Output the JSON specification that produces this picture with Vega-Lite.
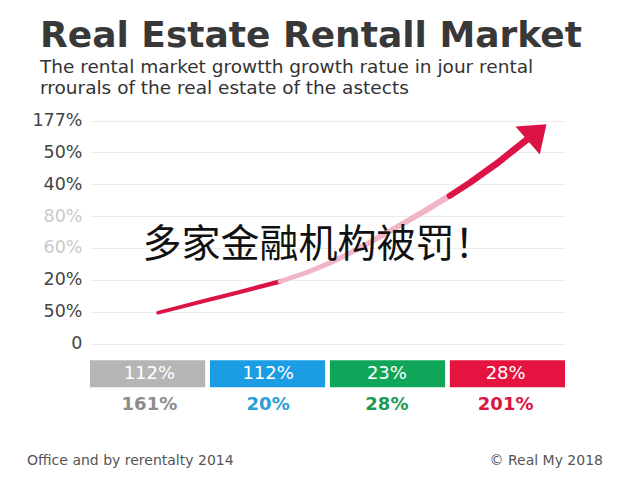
{
  "$schema": "https://vega.github.io/schema/vega-lite/v6.json",
  "width": 475,
  "height": 370,
  "autosize": {"type": "none"},
  "padding": {"left": 90, "top": 110, "right": 75, "bottom": 0},
  "background": "white",
  "config": {"view": {"stroke": null}},
  "title": {
    "text": "Real Estate Rentall Market",
    "subtitle": ["The rental market growtth growth ratue in jour rental", "rrourals of the real estate of the astects"],
    "anchor": "start",
    "frame": "group",
    "dx": -50,
    "offset": 12,
    "font": "DejaVu Sans",
    "fontSize": 36,
    "fontWeight": "bold",
    "color": "#383838",
    "subtitleFont": "DejaVu Sans",
    "subtitleFontSize": 18.5,
    "subtitleColor": "#333333",
    "subtitlePadding": 3,
    "subtitleLineHeight": 21
  },
  "datasets": {
    "curve": [
      {"x": 0.573, "y": 0.97, "seg": 1, "part": "solid"},
      {"x": 0.983, "y": 1.36, "seg": 1, "part": "solid"},
      {"x": 1.263, "y": 1.62, "seg": 1, "part": "solid"},
      {"x": 1.600, "y": 1.95, "seg": 1, "part": "solid"},
      {"x": 1.600, "y": 1.95, "seg": 2, "part": "faded"},
      {"x": 1.825, "y": 2.23, "seg": 2, "part": "faded"},
      {"x": 2.021, "y": 2.53, "seg": 2, "part": "faded"},
      {"x": 2.246, "y": 2.95, "seg": 2, "part": "faded"},
      {"x": 2.526, "y": 3.53, "seg": 2, "part": "faded"},
      {"x": 2.804, "y": 4.13, "seg": 2, "part": "faded"},
      {"x": 3.030, "y": 4.64, "seg": 2, "part": "faded"},
      {"x": 3.030, "y": 4.64, "seg": 3, "part": "solid"},
      {"x": 3.200, "y": 5.05, "seg": 3, "part": "solid"},
      {"x": 3.425, "y": 5.65, "seg": 3, "part": "solid"},
      {"x": 3.621, "y": 6.23, "seg": 3, "part": "solid"},
      {"x": 3.705, "y": 6.48, "seg": 3, "part": "solid"}
    ],
    "tip": [{"x": 3.75, "y": 6.58}],
    "boxes": [
      {"cat": "A", "top": "112%", "bottom": "161%"},
      {"cat": "B", "top": "112%", "bottom": "20%"},
      {"cat": "C", "top": "23%", "bottom": "28%"},
      {"cat": "D", "top": "28%", "bottom": "201%"}
    ],
    "notes": [{"note": "多家金融机构被罚！"}],
    "footerLeft": [{"text": "Office and by rerentalty 2014"}],
    "footerRight": [{"text": "© Real My 2018"}]
  },
  "resolve": {"scale": {"x": "independent", "color": "independent", "size": "independent"}},
  "layer": [
    {
      "data": {"name": "curve"},
      "mark": {"type": "trail", "interpolate": "monotone"},
      "encoding": {
        "x": {"field": "x", "type": "quantitative", "scale": {"domain": [0, 4], "nice": false, "zero": false}, "axis": null},
        "y": {
          "field": "y", "type": "quantitative",
          "scale": {"domain": [-4.28, 7.33], "nice": false, "zero": false},
          "axis": {
            "values": [0, 1, 2, 3, 4, 5, 6, 7],
            "labelExpr": "['0','50%','20%','60%','80%','40%','50%','177%'][datum.value]",
            "title": null,
            "domain": false,
            "ticks": false,
            "labelPadding": 8,
            "labelFont": "DejaVu Sans",
            "labelFontSize": 17.5,
            "labelColor": {"condition": {"test": "datum.value == 3 || datum.value == 4", "value": "#c9c9c9"}, "value": "#444444"},
            "gridColor": "#ececec",
            "gridWidth": 1
          }
        },
        "detail": {"field": "seg"},
        "color": {"field": "part", "type": "nominal", "scale": {"domain": ["solid", "faded"], "range": ["#dc1446", "#f2b5c6"]}, "legend": null},
        "size": {"field": "x", "type": "quantitative", "scale": {"domain": [0.5, 3.8], "range": [3.5, 7]}, "legend": null}
      }
    },
    {
      "data": {"name": "tip"},
      "mark": {"type": "point", "shape": "M0,-0.8 L1,0.55 L-1,0.55 Z", "filled": true, "opacity": 1, "color": "#dc1446", "size": 1369, "angle": 49},
      "encoding": {
        "x": {"field": "x", "type": "quantitative", "scale": {"domain": [0, 4], "nice": false, "zero": false}, "axis": null},
        "y": {"field": "y", "type": "quantitative"}
      }
    },
    {
      "data": {"name": "notes"},
      "mark": {"type": "text", "font": "Noto Sans CJK SC", "fontSize": 39, "color": "#111111", "align": "center", "baseline": "middle"},
      "encoding": {
        "x": {"datum": 1.92, "type": "quantitative", "scale": {"domain": [0, 4], "nice": false, "zero": false}, "axis": null},
        "y": {"datum": 3.1, "type": "quantitative"},
        "text": {"field": "note"}
      }
    },
    {
      "data": {"name": "boxes"},
      "mark": {"type": "bar"},
      "encoding": {
        "x": {"field": "cat", "type": "nominal", "scale": {"paddingInner": 0.04, "paddingOuter": 0}, "axis": null},
        "y": {"datum": -0.52, "type": "quantitative"},
        "y2": {"datum": -1.37},
        "color": {"field": "cat", "type": "nominal", "scale": {"domain": ["A", "B", "C", "D"], "range": ["#b5b5b5", "#1b9de3", "#10a659", "#e5133f"]}, "legend": null}
      }
    },
    {
      "data": {"name": "boxes"},
      "mark": {"type": "text", "font": "DejaVu Sans", "fontSize": 18, "color": "white", "baseline": "middle"},
      "encoding": {
        "x": {"field": "cat", "type": "nominal", "scale": {"paddingInner": 0.04, "paddingOuter": 0}, "axis": null, "bandPosition": 0.5},
        "y": {"datum": -0.96, "type": "quantitative"},
        "text": {"field": "top"}
      }
    },
    {
      "data": {"name": "boxes"},
      "mark": {"type": "text", "font": "DejaVu Sans", "fontSize": 18, "fontWeight": "bold", "baseline": "middle"},
      "encoding": {
        "x": {"field": "cat", "type": "nominal", "scale": {"paddingInner": 0.04, "paddingOuter": 0}, "axis": null, "bandPosition": 0.5},
        "y": {"datum": -1.93, "type": "quantitative"},
        "text": {"field": "bottom"},
        "color": {"field": "cat", "type": "nominal", "scale": {"domain": ["A", "B", "C", "D"], "range": ["#8c8c8c", "#2a9fd8", "#1f9a55", "#d8163f"]}, "legend": null}
      }
    },
    {
      "data": {"name": "footerLeft"},
      "mark": {"type": "text", "font": "DejaVu Sans", "fontSize": 14, "color": "#555555", "baseline": "middle", "align": "left"},
      "encoding": {
        "x": {"datum": -0.53, "type": "quantitative", "scale": {"domain": [0, 4], "nice": false, "zero": false}, "axis": null},
        "y": {"datum": -3.69, "type": "quantitative"},
        "text": {"field": "text"}
      }
    },
    {
      "data": {"name": "footerRight"},
      "mark": {"type": "text", "font": "DejaVu Sans", "fontSize": 14, "color": "#555555", "baseline": "middle", "align": "right"},
      "encoding": {
        "x": {"datum": 4.32, "type": "quantitative", "scale": {"domain": [0, 4], "nice": false, "zero": false}, "axis": null},
        "y": {"datum": -3.69, "type": "quantitative"},
        "text": {"field": "text"}
      }
    }
  ]
}
